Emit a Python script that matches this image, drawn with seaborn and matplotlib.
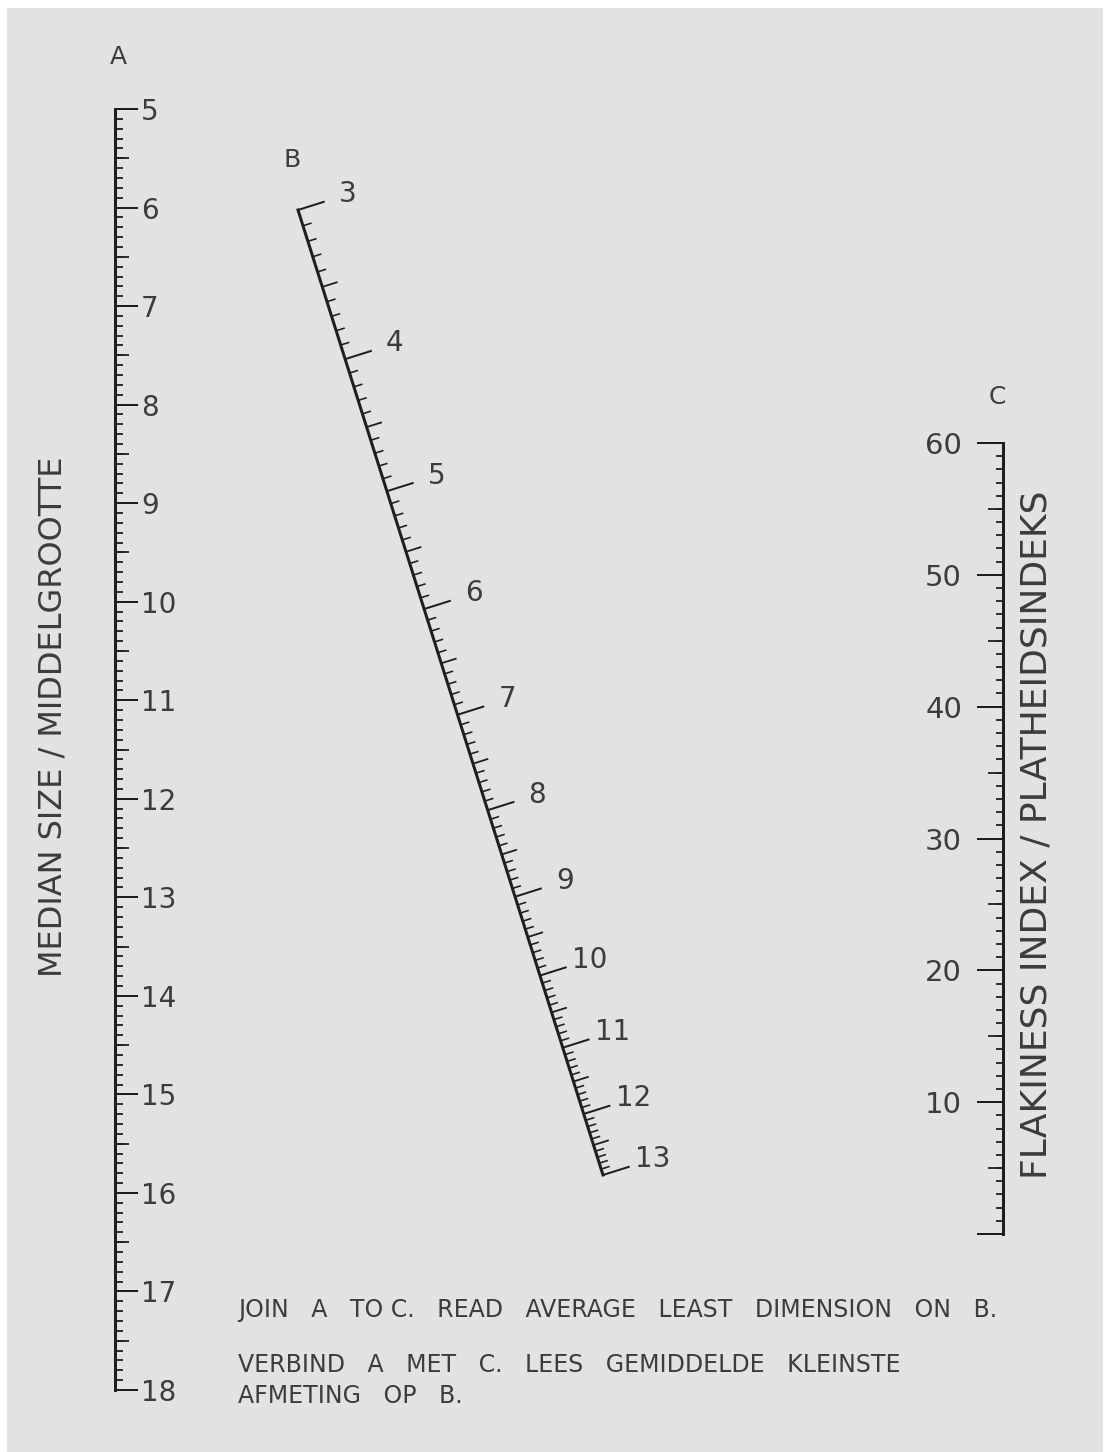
import numpy as np
import pandas as pd
import matplotlib
matplotlib.use("Agg")
import matplotlib.pyplot as plt
import seaborn as sns
from matplotlib.collections import LineCollection
from matplotlib.ticker import FixedLocator, FixedFormatter, MultipleLocator, NullFormatter

# ---------------- data ----------------
a_letter = "A"
a_title = "MEDIAN SIZE / MIDDELGROOTTE"
a_ticks = [5, 6, 7, 8, 9, 10, 11, 12, 13, 14, 15, 16, 17, 18]
a_ticklabels = ["5", "6", "7", "8", "9", "10", "11", "12", "13", "14", "15", "16", "17", "18"]

b_letter = "B"
b_ticks = [3, 4, 5, 6, 7, 8, 9, 10, 11, 12, 13]
b_ticklabels = ["3", "4", "5", "6", "7", "8", "9", "10", "11", "12", "13"]

c_letter = "C"
c_title = "FLAKINESS INDEX / PLATHEIDSINDEKS"
c_limits = [0, 60]
c_ticks = [0, 10, 20, 30, 40, 50, 60]
c_ticklabels = ["", "10", "20", "30", "40", "50", "60"]

note_lines = [
    "JOIN   A   TO C.   READ   AVERAGE   LEAST   DIMENSION   ON   B.",
    "VERBIND   A   MET   C.   LEES   GEMIDDELDE   KLEINSTE",
    "AFMETING   OP   B.",
]

# ---------------- style ----------------
W, H, DPI = 1107, 1452, 100
BG = "#e2e2e2"
INK = "#1e1e1e"
TXT = "#3c3c3c"
PT = 72.0 / DPI  # points per pixel

sns.set_theme(style="white")
plt.rcParams["font.family"] = ["DejaVu Sans"]

fig = plt.figure(figsize=(W / DPI, H / DPI), dpi=DPI, facecolor="white")


def frac_rect(x0, y_top, w, h):
    return [x0 / W, 1 - (y_top + h) / H, w / W, h / H]


# background / drawing canvas in pixel units
bg = fig.add_axes([7 / W, 0, (1103 - 7) / W, (H - 8) / H])
bg.set_facecolor(BG)
for s in bg.spines.values():
    s.set_visible(False)
bg.set_xticks([])
bg.set_yticks([])
bg.set_xlim(7, 1103)
bg.set_ylim(H, 8)


def scale_axis(x_spine, y_top, y_bot, lims, majors, labels, minor_step, mid_step,
               side, lens_px, label_size, pad_px):
    w = 30
    x0 = x_spine - w if side == "right" else x_spine
    rect = frac_rect(x0, y_top, w, y_bot - y_top)
    ax = fig.add_axes(rect)
    ax.patch.set_visible(False)
    ax.set_ylim(*lims)
    for s in ["top", "bottom", "left", "right"]:
        ax.spines[s].set_visible(s == side)
    ax.spines[side].set_linewidth(3.0 * PT)
    ax.spines[side].set_color(INK)
    ax.xaxis.set_visible(False)
    ax.yaxis.set_ticks_position(side)
    ax.yaxis.set_major_locator(FixedLocator(majors))
    ax.yaxis.set_major_formatter(FixedFormatter(labels))
    ax.yaxis.set_minor_locator(MultipleLocator(minor_step))
    ax.yaxis.set_minor_formatter(NullFormatter())
    ax.tick_params(axis="y", which="major", direction="out", length=lens_px[0] * PT,
                   width=2.0 * PT, color=INK, labelsize=label_size, labelcolor=TXT,
                   pad=pad_px * PT)
    ax.tick_params(axis="y", which="minor", direction="out", length=lens_px[2] * PT,
                   width=1.8 * PT, color=INK)
    # medium ticks on an overlapping axes
    ax2 = fig.add_axes(rect)
    ax2.patch.set_visible(False)
    ax2.set_ylim(*lims)
    for s in ax2.spines.values():
        s.set_visible(False)
    ax2.xaxis.set_visible(False)
    ax2.yaxis.set_ticks_position(side)
    lo, hi = min(lims), max(lims)
    mids = [m for m in np.arange(lo + mid_step, hi, 2 * mid_step)]
    ax2.yaxis.set_major_locator(FixedLocator(mids))
    ax2.yaxis.set_major_formatter(NullFormatter())
    ax2.tick_params(axis="y", which="major", direction="out", length=lens_px[1] * PT,
                    width=1.8 * PT, color=INK)
    return ax


# Scale A (left, linear)
axA = scale_axis(115, 109, 1390, (a_ticks[-1], a_ticks[0]), a_ticks, a_ticklabels,
                 0.1, 0.5, "right", (23, 14, 8), 20, 3)

# Scale C (right, linear)
axC = scale_axis(1003, 443, 1234, tuple(c_limits), c_ticks, c_ticklabels,
                 1, 5, "left", (26, 15, 7), 21, 15)

# Scale B (diagonal, Z-chart quotient scale)
K_B = 0.08


def b_frac(v):
    t = lambda x: K_B * x / (1 + K_B * x)
    return (t(v) - t(b_ticks[0])) / (t(b_ticks[-1]) - t(b_ticks[0]))


p0 = np.array([298.0, 210.0])
p1 = np.array([603.0, 1175.0])
d = p1 - p0
u = d / np.hypot(*d)
nrm = np.array([u[1], -u[0]])


def b_pos(v):
    return p0 + b_frac(v) * d


line_df = pd.DataFrame({"x": [b_pos(b_ticks[0])[0], b_pos(b_ticks[-1])[0]],
                        "y": [b_pos(b_ticks[0])[1], b_pos(b_ticks[-1])[1]]})
sns.lineplot(data=line_df, x="x", y="y", ax=bg, color=INK, linewidth=3.0 * PT,
             sort=False, estimator=None, legend=False,
             solid_capstyle="projecting")
bg.set_xlabel("")
bg.set_ylabel("")

segs, widths = [], []
n_sub = int(round((b_ticks[-1] - b_ticks[0]) / 0.1))
for i in range(n_sub + 1):
    v = b_ticks[0] + i * 0.1
    if i % 10 == 0:
        L, lw = 28, 2.0
    elif i % 5 == 0:
        L, lw = 16, 1.8
    else:
        L, lw = 9, 1.6
    base = b_pos(v)
    segs.append([base, base + nrm * L])
    widths.append(lw * PT)
bg.add_collection(LineCollection(segs, colors=INK, linewidths=widths, capstyle="butt"))

for v, lab in zip(b_ticks, b_ticklabels):
    px = b_pos(v) + nrm * 52
    bg.text(px[0], px[1], lab, ha="center", va="center", fontsize=20, color=TXT)

bg.set_xlim(7, 1103)
bg.set_ylim(H, 8)

# Letters and titles
bg.text(118, 57, a_letter, ha="center", va="center", fontsize=18, color=TXT)
bg.text(292, 160, b_letter, ha="center", va="center", fontsize=18, color=TXT)
bg.text(997, 397, c_letter, ha="center", va="center", fontsize=18, color=TXT)
bg.text(53, 717, a_title, ha="center", va="center", rotation=90, fontsize=23, color=TXT)
bg.text(1037, 835, c_title, ha="center", va="center", rotation=90, fontsize=26, color=TXT)

# Instructions
note_y = [1310, 1365, 1396]
for txt, yy in zip(note_lines, note_y):
    bg.text(238, yy, txt, ha="left", va="center", fontsize=17, color=TXT)

fig.savefig("out.png", dpi=DPI, facecolor=fig.get_facecolor())
